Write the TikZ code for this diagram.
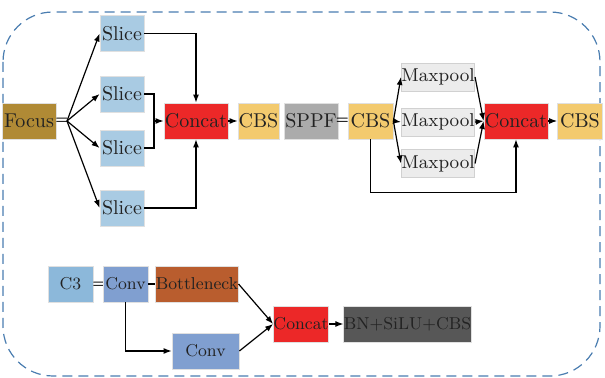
\documentclass[tikz,border=0pt]{standalone}
\usetikzlibrary{arrows.meta}
\definecolor{focusc}{HTML}{B08A35}
\definecolor{slicec}{HTML}{A9CBE3}
\definecolor{concatc}{HTML}{EC2828}
\definecolor{cbsc}{HTML}{F3CA6E}
\definecolor{sppfc}{HTML}{ABABAB}
\definecolor{poolc}{HTML}{ECECEC}
\definecolor{c3c}{HTML}{8CB8DA}
\definecolor{convc}{HTML}{809FD0}
\definecolor{bottlec}{HTML}{B95D2E}
\definecolor{bnc}{HTML}{575757}
\definecolor{framec}{HTML}{4A7DB0}
\definecolor{txtc}{HTML}{222222}
\begin{document}
\begin{tikzpicture}[x=0.5pt,y=-0.5pt,
  blk/.style={draw=black!12,line width=0.4pt,minimum height=18pt,inner sep=0pt,text=txtc,font=\fontsize{10}{11}\selectfont},
  poolblk/.style={blk,fill=poolc,draw=black!18,minimum width=35pt,minimum height=14pt,font=\fontsize{9.3}{10}\selectfont},
  lowblk/.style={blk,font=\fontsize{8.6}{9}\selectfont},
  arr/.style={-{Latex[length=4pt,width=3pt]},line width=0.6pt},
  ln/.style={line width=0.6pt},
  eq/.style={inner sep=0pt,font=\fontsize{6.5}{7}\selectfont\bfseries}]
\useasboundingbox (0,0) rectangle (605,378);
% frame
\draw[framec,dash pattern=on 5pt off 3pt,line width=0.6pt,rounded corners=25pt] (3,12) rectangle (600,376);

% Focus
\node[blk,fill=focusc,minimum width=27pt] (focus) at (29,121) {Focus};
\node[eq] (eq1) at (62,121) {=};
\coordinate (fo) at (67,121);
\node[blk,fill=slicec,minimum width=22pt] (s1) at (122,33.5) {Slice};
\node[blk,fill=slicec,minimum width=22pt] (s2) at (122,94) {Slice};
\node[blk,fill=slicec,minimum width=22pt] (s3) at (122,148) {Slice};
\node[blk,fill=slicec,minimum width=22pt] (s4) at (122,208) {Slice};
\node[blk,fill=concatc,minimum width=32pt] (cc1) at (196,121) {Concat};
\node[blk,fill=cbsc,minimum width=20.5pt] (cbs1) at (258.5,121) {CBS};
\coordinate (j1) at (154,121);

\draw[arr] (fo) -- (s1.west);
\draw[arr] (fo) -- (s2.west);
\draw[arr] (fo) -- (s3.west);
\draw[arr] (fo) -- (s4.west);
\draw[ln] (s2.east) -| (j1);
\draw[ln] (s3.east) -| (j1);
\draw[arr] (j1) -- (cc1.west);
\draw[arr] (s1.east) -| (cc1.north);
\draw[arr] (s4.east) -| (cc1.south);
\draw[arr] (cc1) -- (cbs1);

% SPPF
\node[blk,fill=sppfc,minimum width=27pt] (sppf) at (311,121) {SPPF};
\node[eq] (eq2) at (342.5,121) {=};
\node[blk,fill=cbsc,minimum width=22.5pt] (cbs2) at (370.5,121) {CBS};
\node[poolblk] (mp1) at (438,77) {Maxpool};
\node[poolblk] (mp2) at (438,122) {Maxpool};
\node[poolblk] (mp3) at (438,163.5) {Maxpool};
\node[blk,fill=concatc,minimum width=32pt] (cc2) at (516,121) {Concat};
\node[blk,fill=cbsc,minimum width=22.5pt] (cbs3) at (580,121) {CBS};

\draw[arr] (cbs2.east) -- (mp1.west);
\draw[arr] (cbs2.east) -- (mp2.west);
\draw[arr] (cbs2.east) -- (mp3.west);
\draw[arr] (mp1.east) -- (cc2.west);
\draw[arr] (mp2.east) -- (cc2.west);
\draw[arr] (mp3.east) -- (cc2.west);
\draw[arr] (cc2) -- (cbs3);
\draw[arr] (cbs2.south) -- ++(0,53) -| (cc2.south);

% C3
\node[lowblk,fill=c3c,minimum width=22.5pt] (c3) at (70.5,284) {C3};
\node[eq] (eq3) at (99,285) {=};
\node[lowblk,fill=convc,minimum width=22.5pt] (cv1) at (125.5,284) {Conv};
\node[lowblk,fill=bottlec,minimum width=41pt] (bn) at (197,284) {Bottleneck};
\node[lowblk,fill=convc,minimum width=33.5pt] (cv2) at (205.5,351) {Conv};
\node[lowblk,fill=concatc,minimum width=27pt] (cc3) at (301,324) {Concat};
\node[lowblk,fill=bnc,minimum width=60.5pt] (out) at (407.5,324) {BN+SiLU+CBS};

\draw[ln] (cv1) -- (bn);
\draw[arr] (cv1.south) |- (cv2.west);
\draw[arr] (bn.east) -- (cc3.west);
\draw[arr] (cv2.east) -- (cc3.west);
\draw[arr] (cc3) -- (out);
\end{tikzpicture}
\end{document}
